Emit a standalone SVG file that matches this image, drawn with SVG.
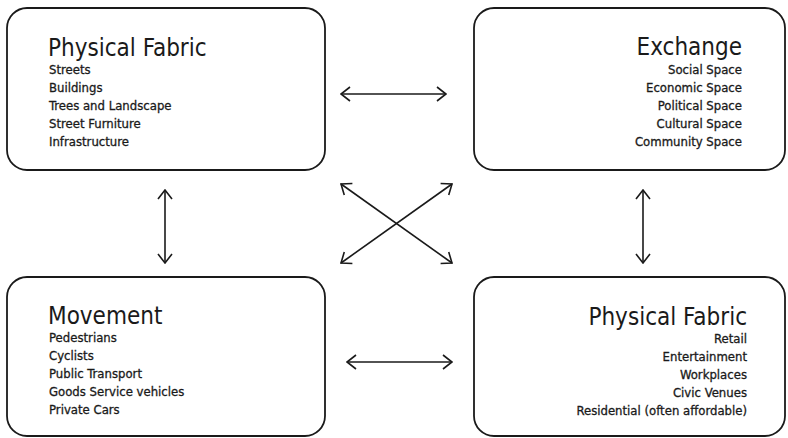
<svg xmlns="http://www.w3.org/2000/svg" width="788" height="438" viewBox="0 0 788 438">
<defs>
<style>
.box{fill:#fff;stroke:#1a1a1a;stroke-width:1.8}
.t{font-family:"DejaVu Sans Condensed","DejaVu Sans",sans-serif;font-size:24px;fill:#1a1a1a}
.i{font-family:"DejaVu Sans Condensed","DejaVu Sans",sans-serif;font-size:13px;fill:#1a1a1a;stroke:#1a1a1a;stroke-width:0.3}
.r{text-anchor:end}
.c{stroke:#1a1a1a;stroke-width:1.6;fill:none}
</style>
<marker id="ah" viewBox="0 0 12 16" refX="11" refY="8" markerWidth="12" markerHeight="16" markerUnits="userSpaceOnUse" orient="auto-start-reverse">
<path d="M2,1 L11,8 L2,15" fill="none" stroke="#1a1a1a" stroke-width="1.6"/>
</marker>
</defs>
<rect width="788" height="438" fill="#fff"/>
<g id="physical-fabric-top">
<rect class="box" x="7" y="8" width="318" height="162" rx="20"/>
<text class="t" x="48" y="56">Physical Fabric</text>
<text class="i" x="49" y="74">Streets</text>
<text class="i" x="49" y="92">Buildings</text>
<text class="i" x="49" y="110">Trees and Landscape</text>
<text class="i" x="49" y="128">Street Furniture</text>
<text class="i" x="49" y="146">Infrastructure</text>
</g>
<g id="exchange">
<rect class="box" x="474" y="8" width="311" height="162" rx="20"/>
<text class="t r" x="742" y="55">Exchange</text>
<text class="i r" x="742" y="74">Social Space</text>
<text class="i r" x="742" y="92">Economic Space</text>
<text class="i r" x="742" y="110">Political Space</text>
<text class="i r" x="742" y="128">Cultural Space</text>
<text class="i r" x="742" y="146">Community Space</text>
</g>
<g id="movement">
<rect class="box" x="7" y="277" width="318" height="159" rx="20"/>
<text class="t" x="48" y="324">Movement</text>
<text class="i" x="49" y="342">Pedestrians</text>
<text class="i" x="49" y="360">Cyclists</text>
<text class="i" x="49" y="378">Public Transport</text>
<text class="i" x="49" y="396">Goods Service vehicles</text>
<text class="i" x="49" y="414">Private Cars</text>
</g>
<g id="physical-fabric-bottom">
<rect class="box" x="474" y="277" width="311" height="159" rx="20"/>
<text class="t r" x="747" y="325">Physical Fabric</text>
<text class="i r" x="747" y="343">Retail</text>
<text class="i r" x="747" y="361">Entertainment</text>
<text class="i r" x="747" y="379">Workplaces</text>
<text class="i r" x="747" y="397">Civic Venues</text>
<text class="i r" x="747" y="415">Residential (often affordable)</text>
</g>
<g id="connectors">
<line class="c" x1="341" y1="94" x2="446" y2="94" marker-start="url(#ah)" marker-end="url(#ah)"/>
<line class="c" x1="347" y1="362" x2="452" y2="362" marker-start="url(#ah)" marker-end="url(#ah)"/>
<line class="c" x1="165" y1="190" x2="165" y2="263" marker-start="url(#ah)" marker-end="url(#ah)"/>
<line class="c" x1="643" y1="190" x2="643" y2="263" marker-start="url(#ah)" marker-end="url(#ah)"/>
<line class="c" x1="341" y1="184" x2="452" y2="263" marker-start="url(#ah)" marker-end="url(#ah)"/>
<line class="c" x1="452" y1="184" x2="341" y2="263" marker-start="url(#ah)" marker-end="url(#ah)"/>
</g>
</svg>
